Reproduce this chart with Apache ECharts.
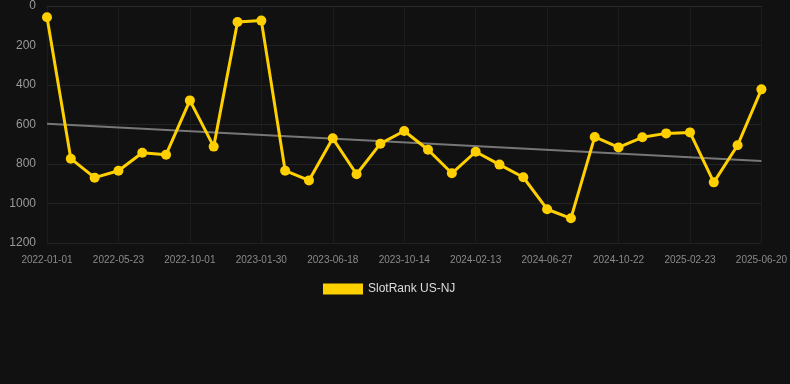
<!DOCTYPE html>
<html>
<head>
<meta charset="utf-8">
<script src="https://cdn.jsdelivr.net/npm/echarts@6/dist/echarts.min.js"></script>
<style>
html,body{margin:0;padding:0;background:#111111;}
#c{width:790px;height:384px;}
</style>
</head>
<body>
<div id="c"></div>
<script>
const categories = [
  '2022-01-01','2022-02-17','2022-04-05','2022-05-23','2022-07-06','2022-08-18',
  '2022-10-01','2022-11-10','2022-12-20','2023-01-30','2023-03-15','2023-05-01',
  '2023-06-18','2023-07-30','2023-09-05','2023-10-14','2023-11-23','2024-01-03',
  '2024-02-13','2024-03-28','2024-05-12','2024-06-27','2024-08-05','2024-09-13',
  '2024-10-22','2024-12-02','2025-01-12','2025-02-23','2025-04-05','2025-05-12',
  '2025-06-20'
];
const rankValues = [
  57, 773, 869, 834, 743, 753, 478, 712, 81, 74, 834, 883, 670, 852, 697, 633,
  728, 847, 738, 803, 867, 1029, 1075, 663, 716, 665, 645, 640, 893, 705, 422
];
const trendEnds = [596, 785];
const yTicks = [0, 200, 400, 600, 800, 1000, 1200];

const chart = echarts.init(document.getElementById('c'));
chart.setOption({
  backgroundColor: '#111111',
  animation: false,
  grid: { left: 47, right: 28, top: 6, bottom: 141, containLabel: false },
  legend: {
    data: ['SlotRank US-NJ'],
    top: 278,
    left: 318,
    itemWidth: 40,
    itemHeight: 11,
    itemGap: 10,
    textStyle: { color: '#dddddd', fontSize: 12, fontFamily: 'Liberation Sans, Arial, sans-serif' },
    icon: 'rect'
  },
  xAxis: {
    type: 'category',
    data: categories,
    boundaryGap: false,
    axisLine: { show: true, lineStyle: { color: '#2a2a2a' } },
    axisTick: { show: false },
    axisLabel: {
      interval: 2,
      color: '#8a8a8a',
      fontSize: 10,
      margin: 12,
      fontFamily: 'Liberation Sans, Arial, sans-serif'
    },
    splitLine: { show: true, interval: 2, lineStyle: { color: '#1c1c1c', width: 1 } }
  },
  yAxis: {
    type: 'value',
    inverse: true,
    min: yTicks[0],
    max: yTicks[yTicks.length - 1],
    interval: 200,
    axisLine: { show: false },
    axisTick: { show: false },
    axisLabel: {
      color: '#9a9a9a',
      fontSize: 12,
      margin: 11,
      formatter: function (v) { return String(v); },
      fontFamily: 'Liberation Sans, Arial, sans-serif'
    },
    splitLine: { show: true, lineStyle: { color: '#222222', width: 1 } }
  },
  series: [
    {
      name: 'Trend',
      type: 'line',
      data: [[categories[0], trendEnds[0]], [categories[categories.length - 1], trendEnds[1]]],
      symbol: 'none',
      lineStyle: { color: '#777777', width: 2 },
      silent: true,
      z: 1
    },
    {
      name: 'SlotRank US-NJ',
      type: 'line',
      data: rankValues,
      symbol: 'circle',
      symbolSize: 10,
      itemStyle: { color: '#FFD000' },
      lineStyle: { color: '#FFD000', width: 3 },
      z: 3
    }
  ]
});
</script>
</body>
</html>
